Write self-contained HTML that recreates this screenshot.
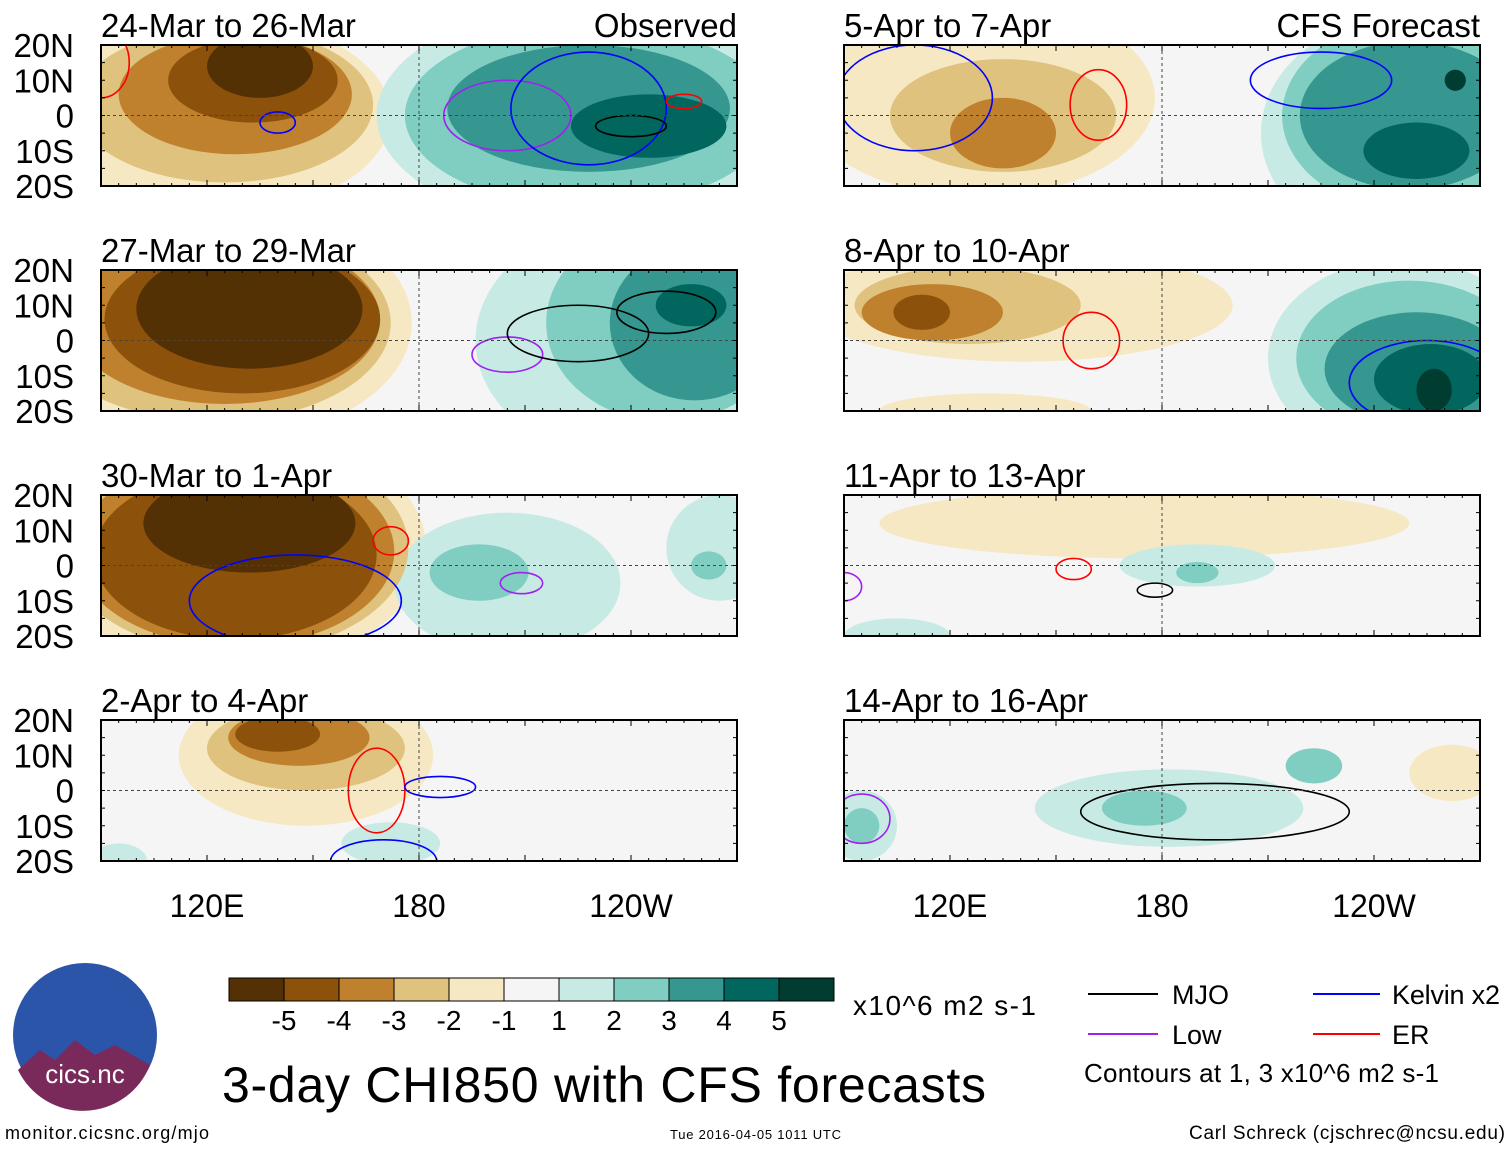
<!DOCTYPE html>
<html><head><meta charset="utf-8"><style>
body{margin:0;background:#fff;}
svg text{font-family:"Liberation Sans",sans-serif;}
</style></head><body>
<svg id="chart" width="1510" height="1149" viewBox="0 0 1510 1149" xmlns="http://www.w3.org/2000/svg">
<rect width="1510" height="1149" fill="#fff"/>
<g id="panels"></g>
<g id="legend"></g>
<circle cx="85" cy="1035" r="72" fill="#2a55a8"/>
<path d="M18,1070 L40,1050 L55,1060 L75,1040 L95,1055 L115,1045 L150,1065 A72,72 0 0 1 18,1070Z" fill="#7a2a5a"/>
<text x="85" y="1083" font-size="26" fill="#fff" text-anchor="middle">cics.nc</text>
<text x="5" y="1139" font-size="18" textLength="204">monitor.cicsnc.org/mjo</text>
<text x="670" y="1139" font-size="13" textLength="171">Tue 2016-04-05 1011 UTC</text>
<text x="1189" y="1139" font-size="19" textLength="316">Carl Schreck (cjschrec@ncsu.edu)</text>
<text x="222" y="1102" font-size="50" textLength="764">3-day CHI850 with CFS forecasts</text>
<text x="853" y="1015" font-size="28" textLength="183">x10^6 m2 s-1</text>
<g>
<line x1="1088" y1="994" x2="1158" y2="994" stroke="#000" stroke-width="2"/><text x="1172" y="1004" font-size="27">MJO</text>
<line x1="1313" y1="994" x2="1380" y2="994" stroke="#0000ff" stroke-width="2"/><text x="1392" y="1004" font-size="27" textLength="108">Kelvin x2</text>
<line x1="1088" y1="1034" x2="1158" y2="1034" stroke="#a020f0" stroke-width="2"/><text x="1172" y="1044" font-size="27">Low</text>
<line x1="1313" y1="1034" x2="1380" y2="1034" stroke="#ff0000" stroke-width="2"/><text x="1392" y="1044" font-size="27">ER</text>
<text x="1084" y="1082" font-size="26" textLength="355">Contours at 1, 3 x10^6 m2 s-1</text>
</g>
</svg>
<script>
const levelLabels=[-5,-4,-3,-2,-1,1,2,3,4,5];
const levelColors={"-5":"#543005","-4":"#8c510a","-3":"#bf812d","-2":"#dfc27d","-1":"#f6e8c3","1":"#c7eae5","2":"#80cdc1","3":"#35978f","4":"#01665e","5":"#003c30"};
const panelTitles=["24-Mar to 26-Mar","27-Mar to 29-Mar","30-Mar to 1-Apr","2-Apr to 4-Apr","5-Apr to 7-Apr","8-Apr to 10-Apr","11-Apr to 13-Apr","14-Apr to 16-Apr"];
const latTicks=[20,10,0,-10,-20];
const lonTicks=[120,180,240];
const lonTickLabels=["120E","180","120W"];
// blobs: [lon, lat, rlon, rlat, level]
const blobs0=[[122,0,50,28,-1],[125,3,42,22,-2],[128,6,33,17,-3],[133,10,24,12,-4],[135,14,15,9,-5],[230,0,62,32,1],[228,0,52,26,2],[228,2,40,18,3],[245,-3,22,9,4]];
const blobs1=[[122,5,56,34,-1],[122,5,50,28,-2],[125,6,44,24,-3],[130,6,39,21,-4],[132,9,32,17,-5],[240,0,44,34,1],[250,5,34,28,2],[258,5,24,22,3],[257,10,10,6,4]];
const blobs2=[[128,5,54,34,-1],[128,5,49,30,-2],[128,4,45,27,-3],[128,3,40,24,-4],[132,12,30,14,-5],[205,-5,32,20,1],[197,-2,14,8,2],[265,5,15,15,1],[262,0,5,4,2]];
const blobs3=[[148,10,36,20,-1],[148,12,28,12,-2],[146,15,20,8,-3],[140,16,12,5,-4],[172,-15,14,6,1],[95,-20,8,5,1]];
const blobs4=[[128,5,50,28,-1],[135,0,32,16,-2],[135,-5,15,10,-3],[252,-5,44,34,1],[250,0,36,27,2],[250,0,31,21,3],[252,-10,15,8,4],[263,10,3,3,5]];
const blobs5=[[140,10,60,16,-1],[125,10,32,11,-2],[115,8,20,8,-3],[112,8,8,5,-4],[248,-5,38,28,1],[250,-5,32,22,2],[252,-8,26,16,3],[256,-11,16,10,4],[257,-14,5,6,5],[130,-20,30,5,-1]];
const blobs6=[[175,12,75,10,-1],[190,0,22,6,1],[190,-2,6,3,2],[105,-20,15,5,1]];
const blobs7=[[182,-5,38,11,1],[175,-5,12,5,2],[95,-10,10,10,1],[95,-10,5,5,2],[262,5,12,8,-1],[223,7,8,5,2]];
const blobSets=[blobs0,blobs1,blobs2,blobs3,blobs4,blobs5,blobs6,blobs7];
// contours: [lon, lat, rlon, rlat, color]
const contours=[
[[205,0,18,10,"#a020f0"],[228,2,22,16,"#0000ff"],[140,-2,5,3,"#0000ff"],[240,-3,10,3,"#000"],[255,4,5,2,"#ff0000"],[90,15,8,10,"#ff0000"]],
[[205,-4,10,5,"#a020f0"],[225,2,20,8,"#000"],[250,8,14,6,"#000"]],
[[172,7,5,4,"#ff0000"],[209,-5,6,3,"#a020f0"],[145,-10,30,13,"#0000ff"]],
[[168,0,8,12,"#ff0000"],[186,1,10,3,"#0000ff"],[170,-20,15,6,"#0000ff"]],
[[162,3,8,10,"#ff0000"],[110,5,22,15,"#0000ff"],[225,10,20,8,"#0000ff"]],
[[160,0,8,8,"#ff0000"],[255,-12,22,12,"#0000ff"]],
[[155,-1,5,3,"#ff0000"],[178,-7,5,2,"#000"],[90,-6,5,4,"#a020f0"]],
[[195,-6,38,8,"#000"],[95,-8,8,7,"#a020f0"]]];
const NS="http://www.w3.org/2000/svg";
function mk(t,a,p){const e=document.createElementNS(NS,t);for(const k in a)e.setAttribute(k,a[k]);p.appendChild(e);return e;}
const W=636,H=141;
const colX=[101,844],rowY=[45,270,495,720];
const panelsG=document.getElementById('panels');
for(let i=0;i<8;i++){
  const px=colX[i<4?0:1],py=rowY[i%4];
  const xs=lon=>px+(lon-90)/180*W;
  const ys=lat=>py+(20-lat)/40*H;
  const g=mk('g',{},panelsG);
  
  
  const cp=mk('clipPath',{id:'cp'+i},g);mk('rect',{x:px,y:py,width:W,height:H},cp);
  const inner=mk('g',{'clip-path':'url(#cp'+i+')'},g);
  mk('rect',{x:px,y:py,width:W,height:H,fill:'#f5f5f5'},inner);
  const bs=blobSets[i].slice().sort((a,b)=>Math.abs(a[4])-Math.abs(b[4]));
  bs.forEach(b=>{const e=mk('ellipse',{cx:xs(b[0]),cy:ys(b[1]),rx:b[2]/180*W,ry:b[3]/40*H,fill:levelColors[b[4]]},inner);
    
    });
  contours[i].forEach(c=>{const e=mk('ellipse',{cx:xs(c[0]),cy:ys(c[1]),rx:c[2]/180*W,ry:c[3]/40*H,fill:'none',stroke:c[4],'stroke-width':1.6},inner);
    
    });
  mk('line',{x1:px,x2:px+W,y1:ys(0),y2:ys(0),stroke:'#444','stroke-dasharray':'3,3'},inner);
  mk('line',{x1:xs(180),x2:xs(180),y1:py,y2:py+H,stroke:'#444','stroke-dasharray':'3,3'},inner);
  mk('rect',{x:px,y:py,width:W,height:H,fill:'none',stroke:'#000','stroke-width':2},g);
  for(let l=90;l<=270;l+=5){const L=(l%30==0)?6:3;
    mk('line',{x1:xs(l),x2:xs(l),y1:py,y2:py+L,stroke:'#000'},g);mk('line',{x1:xs(l),x2:xs(l),y1:py+H,y2:py+H-L,stroke:'#000'},g);}
  for(let la=-20;la<=20;la+=5){mk('line',{x1:px,x2:px+4,y1:ys(la),y2:ys(la),stroke:'#000'},g);mk('line',{x1:px+W,x2:px+W-4,y1:ys(la),y2:ys(la),stroke:'#000'},g);}
  const t=mk('text',{x:px,y:py-8,'font-size':33},g);t.textContent=panelTitles[i];
  
  
  if(i==0){const o=mk('text',{x:px+W,y:py-8,'font-size':33,'text-anchor':'end'},g);o.textContent='Observed';}
  if(i==4){const o=mk('text',{x:px+W,y:py-8,'font-size':33,'text-anchor':'end'},g);o.textContent='CFS Forecast';}
  if(i<4){latTicks.forEach(la=>{const tt=mk('text',{x:74,y:ys(la)+12,'font-size':33,'text-anchor':'end'},g);
    tt.textContent=la>0?la+'N':la<0?(-la)+'S':'0';
    
    });}
  if(i%4==3){lonTicks.forEach((lo,k)=>{const tt=mk('text',{x:xs(lo),y:py+H+56,'font-size':32,'text-anchor':'middle'},g);
    tt.textContent=lonTickLabels[k];
    
    });}
}
const lg=document.getElementById('legend');
const boxColors=["-5","-4","-3","-2","-1","0","1","2","3","4","5"];
boxColors.forEach((c,k)=>{const r=mk('rect',{x:229+k*55,y:978,width:55,height:23,fill:c=="0"?"#f5f5f5":levelColors[c],stroke:'#000'},lg);
  
  });
levelLabels.forEach((v,k)=>{const t=mk('text',{x:284+k*55,y:1030,'font-size':28,'text-anchor':'middle'},lg);t.textContent=v;
  
  });
</script>
</body></html>
